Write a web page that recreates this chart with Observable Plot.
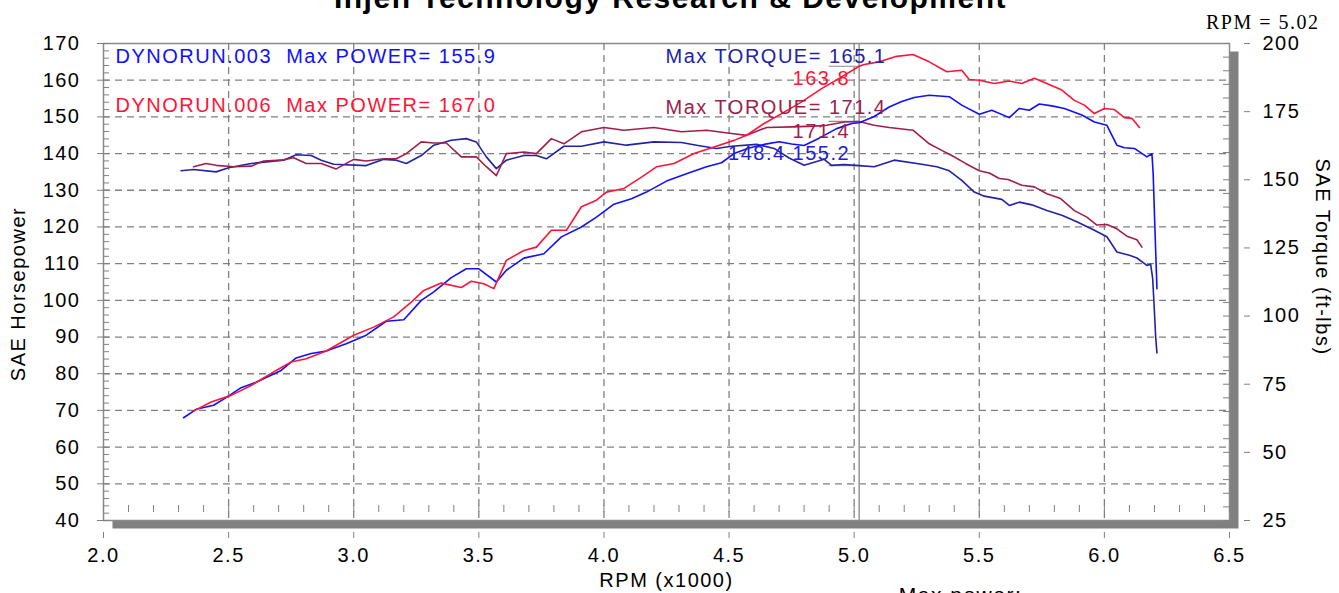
<!DOCTYPE html>
<html><head><meta charset="utf-8">
<script src="https://cdn.jsdelivr.net/npm/d3@7"></script>
<script src="https://cdn.jsdelivr.net/npm/@observablehq/plot@0.6"></script>
<style>
html,body{margin:0;padding:0;background:#fff;overflow:hidden;}
#chart{width:1339px;height:593px;}
</style></head><body><div id="chart"></div>
<script>
// ---------- data ----------
const rpmHp003 = [2.32,2.37,2.44,2.49,2.55,2.61,2.71,2.77,2.83,2.89,2.97,3.05,3.13,3.20,3.27,3.32,3.39,3.45,3.50,3.57,3.61,3.68,3.76,3.83,3.91,3.97,4.04,4.11,4.17,4.25,4.33,4.41,4.47,4.52,4.58,4.64,4.70,4.75,4.80,4.86,4.93,4.99,5.02,5.08,5.14,5.19,5.24,5.30,5.38,5.43,5.50,5.55,5.62,5.66,5.70,5.74,5.79,5.84,5.91,5.96,6.01,6.05,6.08,6.12,6.17,6.19,6.195,6.20,6.21];
const hp003 = [68.0,70.3,71.4,73.5,76.2,77.7,80.9,84.3,85.5,86.2,88.2,90.5,94.3,94.7,100.0,102.3,106.2,108.6,108.6,105.0,108.2,111.5,112.7,117.3,120.0,122.7,126.2,127.7,129.5,132.5,134.5,136.4,137.5,140.0,141.5,142.5,143.2,142.6,142.2,144.2,146.8,148.2,148.4,150.1,152.7,154.2,155.3,155.9,155.5,153.2,150.7,151.8,149.8,152.3,151.8,153.5,153.0,152.3,150.5,148.6,147.7,142.3,141.6,141.4,139.1,140.0,134.5,123.6,103.2];

const rpmTq003 = [2.31,2.36,2.45,2.50,2.59,2.72,2.77,2.83,2.87,2.92,3.05,3.12,3.17,3.21,3.27,3.32,3.39,3.45,3.49,3.53,3.57,3.61,3.68,3.73,3.77,3.84,3.91,4.00,4.09,4.20,4.31,4.37,4.45,4.51,4.61,4.68,4.74,4.80,4.88,4.91,4.96,5.02,5.08,5.16,5.27,5.33,5.38,5.43,5.48,5.52,5.59,5.62,5.66,5.71,5.77,5.83,5.89,5.96,6.01,6.05,6.10,6.13,6.17,6.185,6.193,6.199,6.205,6.21];
const tq003 = [153.3,153.8,152.9,154.4,156.0,157.2,159.2,158.9,157.2,155.7,155.2,157.5,157.2,156.0,158.9,162.7,164.5,165.1,163.9,158.4,154.1,157.2,158.9,158.9,157.7,162.3,162.3,163.9,162.7,163.9,163.7,162.7,161.5,162.3,163.0,161.5,158.0,155.3,157.5,155.3,155.6,155.2,154.8,157.2,155.7,154.8,153.3,149.8,145.5,144.0,142.8,140.6,141.8,140.8,138.7,137.0,134.6,131.5,129.1,123.5,122.3,121.3,118.6,119.0,113.7,103.3,92.3,86.5];

const rpmHp006 = [2.36,2.43,2.51,2.59,2.69,2.75,2.81,2.89,3.00,3.08,3.16,3.23,3.28,3.35,3.43,3.47,3.52,3.56,3.61,3.68,3.73,3.79,3.85,3.91,3.97,4.01,4.08,4.15,4.21,4.28,4.36,4.44,4.52,4.57,4.64,4.71,4.79,4.87,4.95,5.02,5.04,5.10,5.17,5.235,5.30,5.37,5.43,5.46,5.50,5.56,5.62,5.67,5.72,5.77,5.83,5.88,5.92,5.96,6.00,6.04,6.08,6.11,6.14];
const hp006 = [69.8,72.3,74.1,76.8,80.9,83.2,84.1,86.2,90.5,92.7,95.5,99.5,102.7,104.7,103.5,105.2,104.5,103.2,110.9,113.6,114.5,119.1,119.1,125.5,127.3,129.5,130.5,133.6,136.4,137.3,140.0,141.8,143.6,145.0,148.2,150.9,154.1,157.7,160.9,163.8,164.3,165.0,166.5,167.0,165.0,162.3,162.7,160.2,160.0,159.1,159.8,159.1,160.5,159.1,157.3,154.5,153.2,150.9,152.3,152.0,149.8,149.6,147.1];

const rpmTq006 = [2.36,2.41,2.45,2.52,2.59,2.64,2.71,2.76,2.81,2.87,2.93,3.00,3.05,3.12,3.17,3.21,3.27,3.32,3.37,3.43,3.49,3.53,3.57,3.61,3.68,3.73,3.79,3.84,3.91,4.00,4.08,4.20,4.31,4.41,4.51,4.57,4.65,4.75,4.84,4.89,4.96,5.02,5.08,5.14,5.235,5.30,5.35,5.39,5.445,5.50,5.54,5.58,5.615,5.67,5.72,5.77,5.825,5.88,5.93,5.97,6.01,6.05,6.09,6.13,6.15];
const tq006 = [154.8,156.0,155.3,154.8,155.0,156.9,157.2,158.1,156.0,156.0,154.0,157.5,156.9,157.7,157.7,159.6,163.9,163.5,163.5,158.4,158.4,154.8,151.5,159.6,160.2,159.6,165.1,163.2,167.6,169.2,168.2,169.2,167.6,168.2,167.0,166.3,169.2,169.4,169.7,170.0,171.2,171.4,170.0,169.2,168.2,163.2,160.8,158.9,156.0,153.3,152.5,150.5,150.1,148.0,147.4,144.9,143.1,138.7,136.3,133.4,133.6,132.0,129.3,128.0,125.3];

const rpmTicks = [2.0,2.5,3.0,3.5,4.0,4.5,5.0,5.5,6.0,6.5];
const hpTicks = [40,50,60,70,80,90,100,110,120,130,140,150,160,170];
const tqTicks = [25,50,75,100,125,150,175,200];

const titleText = "Injen Technology Research & Development";
const legend003 = "DYNORUN.003  Max POWER= 155.9";
const legend006 = "DYNORUN.006  Max POWER= 167.0";
const torque003Text = "Max TORQUE= 165.1";
const torque006Text = "Max TORQUE= 171.4";
const cursorRpm = 5.02;
const cursorHp006 = 163.8, cursorTq006 = 171.4, cursorHp003 = 148.4, cursorTq003 = 155.2;

// ---------- scales ----------
const xDomain = [rpmTicks[0], rpmTicks[rpmTicks.length - 1]];
const hpDomain = [hpTicks[0], hpTicks[hpTicks.length - 1]];
const tqDomain = [tqTicks[0], tqTicks[tqTicks.length - 1]];
const k = (hpDomain[1] - hpDomain[0]) / (tqDomain[1] - tqDomain[0]);
const tqToHp = t => hpDomain[0] + (t - tqDomain[0]) * k;
const hpToTq = h => tqDomain[0] + (h - hpDomain[0]) / k;

const zip = (xs, ys, conv = v => v) => xs.map((r, i) => ({rpm: r, v: conv(ys[i])}));
const s003hp = zip(rpmHp003, hp003);
const s006hp = zip(rpmHp006, hp006);
const s003tq = zip(rpmTq003, tq003, tqToHp);
const s006tq = zip(rpmTq006, tq006, tqToHp);

const BLUE = "#1010ff", NAVY = "#2222a8", RED = "#ff1438", MAROON = "#a01e4c", GRID = "#808080";
const FS = 20;

const hpMinor = d3.range(hpDomain[0], hpDomain[1] + 0.01, 2);
const tqMinor = d3.range(tqDomain[0], tqDomain[1] + 0.01, 5).map(tqToHp);
const rpmMinor = d3.range(0, 46).map(i => +(xDomain[0] + i * 0.1).toFixed(1));
const hpGrid = hpTicks.slice(1, -1);
const rpmGrid = rpmTicks.slice(1, -1);
const lineShape = {draw(ctx, l) { ctx.moveTo(0, 0); ctx.lineTo(0, -l); }};
const noText = () => "";

const chart = Plot.plot({
  width: 1339, height: 593,
  marginLeft: 103, marginRight: 110, marginTop: 43, marginBottom: 73,
  x: {domain: xDomain, label: null},
  y: {domain: hpDomain, label: null},
  style: {fontFamily: "'Liberation Sans', Arial, sans-serif", fontSize: "20px", letterSpacing: "1.5px", background: "white", color: "black"},
  marks: [
    // 3D shadow + plot background
    Plot.frame({fill: "#808080", dx: 9, dy: 8}),
    Plot.frame({fill: "white", stroke: "#8a8a8a", strokeWidth: 1.5}),
    // dashed grid
    Plot.ruleY(hpGrid, {stroke: GRID, strokeWidth: 1.3, strokeDasharray: "7,5"}),
    Plot.ruleX(rpmGrid, {stroke: GRID, strokeWidth: 1.3, strokeDasharray: "7,5"}),
    // minor ticks inside the frame
    Plot.axisY({anchor: "left", ticks: hpMinor, tickSize: 6, dx: 6, tickFormat: noText, stroke: GRID, label: null}),
    Plot.axisY({anchor: "right", ticks: tqMinor, tickSize: 7, dx: -7, tickFormat: noText, stroke: GRID, label: null}),
    Plot.axisX({anchor: "bottom", ticks: rpmMinor, tickSize: 7, dy: -15, tickFormat: noText, stroke: GRID, label: null}),
    // major axes
    Plot.axisY({anchor: "left", ticks: hpTicks, tickSize: 6, tickPadding: 17, fontSize: FS, stroke: GRID, fill: "black", label: null}),
    Plot.axisY({anchor: "right", ticks: tqTicks.map(tqToHp), tickFormat: d => String(Math.round(hpToTq(d))), tickSize: 6, dx: 14, tickPadding: 13, fontSize: FS, stroke: GRID, fill: "black", label: null}),
    Plot.axisX({anchor: "bottom", ticks: rpmTicks, tickFormat: d3.format(".1f"), tickSize: 6, dy: 12, tickPadding: 9, fontSize: FS, stroke: GRID, fill: "black", label: null}),
    // cursor
    Plot.ruleX([cursorRpm], {stroke: "#9a9a9a", strokeWidth: 1.6}),
    Plot.vector([cursorHp006, tqToHp(cursorTq006), tqToHp(cursorTq003)], {x: () => cursorRpm, y: d => d, length: 30, rotate: -90, anchor: "start", shape: lineShape, stroke: "#8a8a8a", strokeWidth: 1.2}),
    // curves
    Plot.line(s003tq, {x: "rpm", y: "v", stroke: NAVY, strokeWidth: 1.6}),
    Plot.line(s006tq, {x: "rpm", y: "v", stroke: MAROON, strokeWidth: 1.6}),
    Plot.line(s003hp, {x: "rpm", y: "v", stroke: BLUE, strokeWidth: 1.6}),
    Plot.line(s006hp, {x: "rpm", y: "v", stroke: RED, strokeWidth: 1.6}),
    // cursor value labels
    Plot.text([cursorHp006], {x: () => cursorRpm, y: d => d, text: d => d.toFixed(1), textAnchor: "end", lineAnchor: "middle", dx: -9, dy: 12, fill: RED, fontSize: FS}),
    Plot.text([cursorTq006], {x: () => cursorRpm, y: d => tqToHp(d), text: d => d.toFixed(1), textAnchor: "end", lineAnchor: "middle", dx: -9, dy: 10, fill: MAROON, fontSize: FS}),
    Plot.text([cursorTq003], {x: () => cursorRpm, y: d => tqToHp(d), text: d => `${cursorHp003.toFixed(1)} ${d.toFixed(1)}`, textAnchor: "end", lineAnchor: "middle", dx: -9, dy: -12, fill: "#2020d0", fontSize: FS}),
    // legend lines
    Plot.text([legend003], {text: d => d, frameAnchor: "top-left", lineAnchor: "middle", dx: 12, dy: 13, textAnchor: "start", fill: BLUE, fontSize: FS, letterSpacing: "2px"}),
    Plot.text([torque003Text], {text: d => d, frameAnchor: "top-left", lineAnchor: "middle", dx: 562, dy: 13, textAnchor: "start", fill: NAVY, fontSize: FS}),
    Plot.text([legend006], {text: d => d, frameAnchor: "top-left", lineAnchor: "middle", dx: 12, dy: 62, textAnchor: "start", fill: RED, fontSize: FS, letterSpacing: "2px"}),
    Plot.text([torque006Text], {text: d => d, frameAnchor: "top-left", lineAnchor: "middle", dx: 562, dy: 64, textAnchor: "start", fill: MAROON, fontSize: FS}),
    // titles and axis labels
    Plot.text([titleText], {text: d => d, frameAnchor: "top", lineAnchor: "middle", textAnchor: "middle", dx: 4, dy: -45.6, fontSize: 30, fontWeight: "bold", fill: "black", letterSpacing: "2.5px"}),
    Plot.text([`RPM = ${cursorRpm.toFixed(2)}`], {text: d => d, frameAnchor: "top-right", lineAnchor: "middle", dx: 90, dy: -21, textAnchor: "end", fontSize: 20, fontFamily: "'Liberation Serif', 'Times New Roman', serif", fill: "black"}),
    Plot.text(["SAE Horsepower"], {text: d => d, frameAnchor: "left", lineAnchor: "middle", textAnchor: "middle", dx: -85, dy: 12, rotate: -90, fontSize: FS, fill: "black"}),
    Plot.text(["SAE Torque (ft-lbs)"], {text: d => d, frameAnchor: "right", lineAnchor: "middle", textAnchor: "middle", dx: 93, dy: -25, rotate: 90, fontSize: FS, fill: "black"}),
    Plot.text(["RPM (x1000)"], {text: d => d, frameAnchor: "bottom", lineAnchor: "middle", textAnchor: "middle", dx: 0, dy: 60, fontSize: FS, fill: "black"}),
    Plot.text(["Max power:"], {text: d => d, frameAnchor: "bottom", lineAnchor: "middle", textAnchor: "middle", dx: 294, dy: 75, fontSize: 21, fill: "black"})
  ]
});
document.getElementById("chart").appendChild(chart);
</script></body></html>
